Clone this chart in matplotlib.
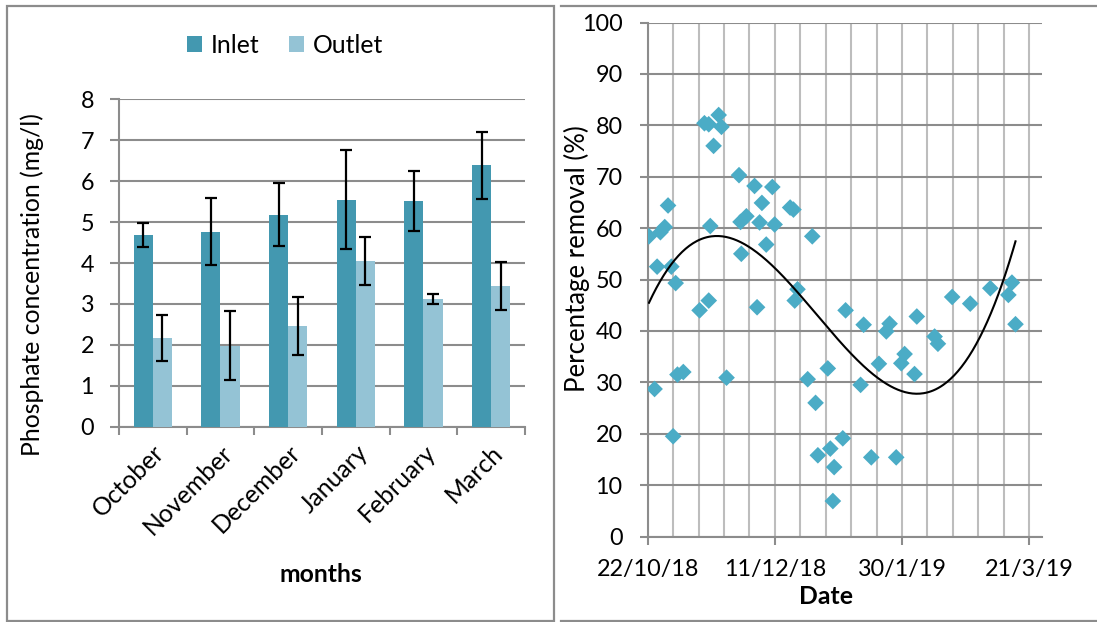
import numpy as np
import matplotlib
matplotlib.use("Agg")
import matplotlib.pyplot as plt
from matplotlib.lines import Line2D
from matplotlib.patches import Rectangle

# ---------------- data ----------------
months = ["October", "November", "December", "January", "February", "March"]
inlet = [4.68, 4.76, 5.18, 5.55, 5.52, 6.39]
inlet_err = [0.30, 0.82, 0.77, 1.22, 0.74, 0.82]
outlet = [2.17, 1.98, 2.45, 4.05, 3.12, 3.44]
outlet_err = [0.56, 0.84, 0.71, 0.58, 0.13, 0.59]

# days since 22/10/18
days = [0.5, 2.7, 3.7, 5.0, 6.7, 8.0, 9.3, 10.0, 11.0, 11.7, 14.0, 20.4, 24.0,
        22.3, 24.0, 27.9, 29.0, 25.9, 24.6, 31.0, 35.9, 36.5, 38.8, 36.8, 42.0,
        43.0, 44.0, 44.9, 46.6, 49.0, 49.9, 56.0, 57.3, 57.8, 58.9, 62.9, 64.7,
        66.0, 66.9, 70.8, 71.8, 72.8, 73.3, 76.7, 77.8, 83.7, 84.9, 87.9, 90.9,
        93.8, 95.1, 97.7, 99.7, 101.0, 104.9, 105.8, 112.8, 114.1, 119.7, 126.8,
        134.7, 141.8, 143.2, 144.6]
removal = [58.4, 28.7, 52.5, 59.2, 60.2, 64.4, 52.5, 19.5, 49.3, 31.5, 32.0, 44.0, 45.9,
           80.4, 80.2, 82.0, 79.7, 76.0, 60.4, 30.9, 70.3, 61.2, 62.3, 55.0, 68.2,
           44.6, 61.1, 64.9, 56.8, 68.0, 60.7, 64.0, 63.6, 45.9, 48.1, 30.6, 58.4,
           26.0, 15.8, 32.7, 17.1, 6.9, 13.5, 19.1, 44.0, 29.5, 41.2, 15.4, 33.6,
           39.9, 41.4, 15.4, 33.7, 35.5, 31.6, 42.8, 38.9, 37.5, 46.6, 45.3,
           48.3, 47.0, 49.4, 41.3]
date_ticks = [0, 50, 100, 150]
date_labels = ["22/10/18", "11/12/18", "30/1/19", "21/3/19"]

# ---------------- style ----------------
FONT = "Lato"
plt.rcParams["font.family"] = [FONT, "DejaVu Sans"]
FS = 16.8
FS_LAB = 17.8
W, H = 1097, 622
fig = plt.figure(figsize=(W / 100, H / 100), dpi=100)

def fx(px):
    return px / W

def fy(py):
    return 1 - py / H

C_IN = "#4398B0"
C_OUT = "#94C3D5"
C_PT = "#4BACC6"
GRID = "#8C8C8C"
GRID_MIN = "#BDBDBD"

# ---------------- left panel ----------------
ax1 = fig.add_axes([fx(119), fy(426.7), fx(525) - fx(119), fy(99.3) - fy(426.7)])
x = np.arange(len(months))
bw = 0.285
ax1.bar(x - bw / 2, inlet, bw, color=C_IN, label="Inlet", zorder=3)
ax1.bar(x + bw / 2, outlet, bw, color=C_OUT, label="Outlet", zorder=3)
ax1.errorbar(x - bw / 2, inlet, yerr=inlet_err, fmt="none", ecolor="black",
             elinewidth=1.6, capsize=4.2, capthick=1.6, zorder=4)
ax1.errorbar(x + bw / 2, outlet, yerr=outlet_err, fmt="none", ecolor="black",
             elinewidth=1.6, capsize=4.2, capthick=1.6, zorder=4)
ax1.set_xlim(-0.5, len(months) - 0.5)
ax1.set_ylim(0, 8)
ax1.set_yticks(range(0, 9))
ax1.yaxis.grid(True, color=GRID, linewidth=1.5, zorder=0)
ax1.set_axisbelow(True)
for s in ["top", "right"]:
    ax1.spines[s].set_visible(False)
ax1.spines["left"].set_color(GRID)
ax1.spines["bottom"].set_color(GRID)
ax1.spines["left"].set_linewidth(1.5)
ax1.spines["bottom"].set_linewidth(1.5)
ax1.tick_params(axis="y", length=6.5, width=1.5, color=GRID, pad=11.5, labelsize=FS)
ax1.set_xticks(np.arange(-0.5, len(months)), minor=False)
ax1.set_xticklabels([])
ax1.tick_params(axis="x", which="major", length=6, width=1.5, color=GRID)
ax1.set_xticks(x, minor=True)
ax1.set_xticklabels(months, minor=True, rotation=45, ha="right",
                    rotation_mode="anchor", fontsize=FS_LAB)
ax1.tick_params(axis="x", which="minor", length=0, pad=10)
fig.text(fx(32), fy(285), "Phosphate concentration (mg/l)", rotation=90,
         ha="center", va="center", fontsize=FS_LAB)
fig.text(fx(321), fy(575), "months", ha="center", va="center",
         fontsize=FS_LAB, fontweight="bold")
leg = fig.legend(handles=ax1.patches[:1] + ax1.patches[6:7], labels=["Inlet", "Outlet"],
                 loc="center", bbox_to_anchor=(fx(285), fy(45.5)), ncol=2,
                 frameon=False, fontsize=FS_LAB, handlelength=0.62, handleheight=0.62,
                 handletextpad=0.35, columnspacing=1.2, borderaxespad=0)

# ---------------- right panel ----------------
ax2 = fig.add_axes([fx(647.7), fy(536.5), fx(1041.7) - fx(647.7), fy(22.5) - fy(536.5)])
ax2.scatter(days, removal, marker="D", s=72, color=C_PT, edgecolors="none", zorder=3)
coef = np.polyfit(days, removal, 3)
xt = np.linspace(min(days), max(days), 300)
ax2.plot(xt, np.polyval(coef, xt), color="black", linewidth=1.5, zorder=4)
ax2.set_xlim(0, 154.9)
ax2.set_ylim(0, 100)
ax2.set_yticks(range(0, 101, 10))
ax2.set_xticks(date_ticks)
ax2.set_xticklabels(date_labels)
ax2.set_xticks(np.arange(10, 155, 10), minor=True)
ax2.yaxis.grid(True, color=GRID, linewidth=1.5, zorder=0)
ax2.xaxis.grid(True, which="both", color=GRID_MIN, linewidth=1.5, zorder=0)
ax2.set_axisbelow(True)
for s in ["top", "right"]:
    ax2.spines[s].set_visible(False)
for s in ["left", "bottom"]:
    ax2.spines[s].set_color(GRID)
    ax2.spines[s].set_linewidth(1.5)
ax2.tick_params(axis="y", length=6, width=1.5, color=GRID, pad=12, labelsize=FS)
ax2.tick_params(axis="x", which="major", length=5.5, width=1.5, color=GRID, pad=11,
                labelsize=FS)
ax2.tick_params(axis="x", which="minor", length=0)
fig.text(fx(577), fy(259), "Percentage removal (%)", rotation=90,
         ha="center", va="center", fontsize=18.5)
fig.text(fx(826), fy(597), "Date", ha="center", va="center",
         fontsize=FS_LAB, fontweight="bold")

# ---------------- panel borders ----------------
BORDER = "#8C8C8C"
fig.add_artist(Rectangle((fx(6.7), fy(620.7)), fx(554) - fx(6.7), fy(6) - fy(620.7),
                         transform=fig.transFigure, fill=False, edgecolor=BORDER,
                         linewidth=1.6))
for yy in (6, 621):
    fig.add_artist(Line2D([fx(561), 1], [fy(yy), fy(yy)], transform=fig.transFigure,
                          color=BORDER, linewidth=1.6))

fig.savefig("out.png", dpi=100)
